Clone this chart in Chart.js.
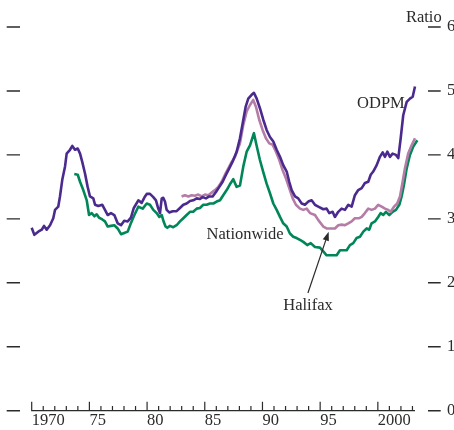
<!DOCTYPE html>
<html>
<head>
<meta charset="utf-8">
<script src="https://cdn.jsdelivr.net/npm/chart.js@4"></script>
<style>
  html, body { margin: 0; padding: 0; background: #fff; }
  #wrap { width: 454px; height: 430px; }
</style>
</head>
<body>
<div id="wrap"><canvas id="c" width="454" height="430"></canvas></div>
<script>
// ---- Data ----
const xTickValues = [1970, 1975, 1980, 1985, 1990, 1995, 2000];
const xTickLabels = ['1970', '75', '80', '85', '90', '95', '2000'];
const yTickValues = [0, 1, 2, 3, 4, 5, 6];
const yTickLabels = ['0', '1', '2', '3', '4', '5', '6'];

const odpmYears = [1970.0,1970.23,1970.57,1970.87,1971.07,1971.3,1971.59,1971.87,1972.02,1972.3,1972.45,1972.65,1972.89,1973.03,1973.32,1973.52,1973.75,1973.99,1974.19,1974.38,1974.62,1974.85,1975.05,1975.34,1975.49,1975.77,1976.12,1976.35,1976.59,1976.87,1977.16,1977.45,1977.74,1978.02,1978.32,1978.6,1978.85,1979.24,1979.53,1979.82,1979.97,1980.25,1980.54,1980.77,1980.97,1981.12,1981.27,1981.4,1981.55,1981.7,1981.92,1982.22,1982.56,1982.85,1983.14,1983.43,1983.72,1984.0,1984.3,1984.58,1984.82,1985.1,1985.39,1985.68,1985.97,1986.26,1986.55,1986.84,1987.12,1987.4,1987.76,1988.05,1988.34,1988.54,1988.77,1989.06,1989.26,1989.5,1989.78,1990.07,1990.36,1990.65,1990.94,1991.23,1991.52,1991.8,1992.1,1992.32,1992.53,1992.82,1993.1,1993.4,1993.68,1993.97,1994.26,1994.55,1994.84,1995.27,1995.56,1995.79,1996.08,1996.28,1996.57,1996.86,1997.15,1997.44,1997.73,1998.01,1998.3,1998.6,1998.88,1999.17,1999.38,1999.6,1999.9,2000.18,2000.42,2000.62,2000.82,2001.05,2001.28,2001.57,2001.77,2001.98,2002.2,2002.5,2002.78,2003.02,2003.22];
const odpmValues = [2.86,2.75,2.80,2.83,2.89,2.83,2.90,3.01,3.14,3.19,3.35,3.61,3.82,4.02,4.08,4.14,4.08,4.10,4.02,3.89,3.71,3.50,3.35,3.32,3.22,3.20,3.22,3.14,3.06,3.09,3.06,2.93,2.90,2.97,2.96,3.02,3.17,3.29,3.25,3.35,3.39,3.39,3.34,3.29,3.16,3.09,3.32,3.33,3.27,3.14,3.10,3.12,3.12,3.17,3.22,3.24,3.28,3.29,3.32,3.31,3.34,3.32,3.35,3.35,3.42,3.50,3.58,3.69,3.79,3.89,4.05,4.26,4.55,4.75,4.88,4.94,4.97,4.88,4.73,4.55,4.39,4.28,4.21,4.08,3.97,3.84,3.74,3.58,3.45,3.35,3.32,3.24,3.22,3.27,3.29,3.22,3.19,3.15,3.16,3.09,3.11,3.03,3.11,3.16,3.14,3.22,3.19,3.37,3.45,3.48,3.56,3.58,3.69,3.74,3.84,3.97,4.04,3.97,4.05,3.97,4.02,4.00,3.95,4.26,4.62,4.83,4.88,4.91,5.07];

const halifaxYears = [1982.99,1983.28,1983.57,1983.86,1984.15,1984.44,1984.73,1985.02,1985.31,1985.6,1985.88,1986.17,1986.46,1986.75,1987.04,1987.33,1987.62,1988.05,1988.34,1988.63,1988.92,1989.2,1989.44,1989.72,1990.01,1990.3,1990.59,1990.88,1991.17,1991.46,1991.75,1992.04,1992.32,1992.62,1992.9,1993.25,1993.54,1993.83,1994.12,1994.55,1994.84,1995.27,1995.56,1996.28,1996.57,1996.86,1997.15,1997.44,1997.73,1998.01,1998.39,1998.6,1998.88,1999.17,1999.46,1999.75,2000.03,2000.33,2000.62,2000.9,2001.11,2001.4,2001.68,2001.92,2002.15,2002.35,2002.63,2002.93,2003.22,2003.42];
const halifaxValues = [3.35,3.37,3.35,3.37,3.36,3.38,3.35,3.38,3.37,3.41,3.45,3.50,3.58,3.69,3.79,3.89,3.97,4.18,4.47,4.68,4.78,4.86,4.75,4.55,4.39,4.26,4.18,4.16,4.05,3.92,3.76,3.63,3.48,3.32,3.22,3.16,3.14,3.16,3.09,3.06,2.98,2.88,2.85,2.85,2.90,2.91,2.90,2.93,2.96,3.01,3.01,3.03,3.09,3.16,3.14,3.16,3.22,3.19,3.16,3.14,3.11,3.19,3.24,3.35,3.58,3.79,4.02,4.15,4.26,4.30];

const nationwideYears = [1973.69,1973.99,1974.19,1974.47,1974.77,1974.97,1975.2,1975.43,1975.63,1975.83,1976.12,1976.35,1976.59,1976.87,1977.16,1977.45,1977.74,1978.02,1978.32,1978.55,1978.85,1979.24,1979.62,1979.97,1980.25,1980.54,1980.83,1981.06,1981.27,1981.45,1981.6,1981.75,1981.98,1982.27,1982.56,1982.85,1983.14,1983.43,1983.72,1984.0,1984.3,1984.58,1984.87,1985.16,1985.45,1985.74,1986.03,1986.32,1986.6,1986.9,1987.18,1987.47,1987.76,1988.05,1988.34,1988.63,1988.92,1989.26,1989.5,1989.78,1990.07,1990.36,1990.65,1990.94,1991.23,1991.52,1991.8,1992.1,1992.38,1992.67,1992.96,1993.25,1993.54,1993.88,1994.18,1994.55,1994.98,1995.27,1995.56,1996.43,1996.72,1997.3,1997.58,1997.87,1998.16,1998.45,1998.74,1999.03,1999.25,1999.46,1999.75,2000.03,2000.24,2000.47,2000.7,2000.99,2001.28,2001.57,2001.86,2002.06,2002.26,2002.5,2002.78,2003.07,2003.42];
const nationwideValues = [3.70,3.69,3.58,3.45,3.29,3.06,3.09,3.04,3.07,3.02,2.99,2.96,2.88,2.89,2.90,2.85,2.76,2.78,2.80,2.91,3.04,3.19,3.16,3.24,3.22,3.14,3.09,3.03,3.06,2.95,2.88,2.86,2.89,2.87,2.90,2.96,3.01,3.06,3.11,3.11,3.16,3.17,3.22,3.22,3.24,3.24,3.27,3.29,3.37,3.45,3.54,3.62,3.50,3.52,3.82,4.05,4.15,4.34,4.14,3.92,3.73,3.55,3.40,3.24,3.14,3.03,2.93,2.88,2.77,2.72,2.70,2.67,2.64,2.59,2.62,2.56,2.55,2.49,2.43,2.43,2.51,2.51,2.59,2.62,2.70,2.72,2.80,2.85,2.83,2.93,2.96,3.03,3.09,3.06,3.11,3.06,3.11,3.14,3.22,3.35,3.53,3.79,4.00,4.13,4.23];

// ---- Styling ----
const FONT = 'Liberation Serif';
const TEXT = '#2b2b2b';
const toXY = (xs, ys) => xs.map((x, i) => ({ x, y: ys[i] }));

const decor = {
  id: 'decor',
  afterDraw(chart) {
    const { ctx, chartArea: ca } = chart;
    const x = chart.scales.x, y = chart.scales.y;
    ctx.save();
    ctx.strokeStyle = TEXT;
    ctx.lineWidth = 1.4;
    // left and right tick dashes
    yTickValues.forEach(v => {
      const py = y.getPixelForValue(v);
      ctx.beginPath();
      ctx.moveTo(ca.left - 25, py); ctx.lineTo(ca.left - 11.7, py);
      ctx.moveTo(ca.right + 13, py); ctx.lineTo(ca.right + 25.7, py);
      ctx.stroke();
    });
    // x baseline with yearly ticks pointing up
    const by = y.getPixelForValue(0);
    ctx.lineWidth = 1.2;
    ctx.beginPath();
    ctx.moveTo(x.getPixelForValue(1970) - 0.6, by);
    ctx.lineTo(x.getPixelForValue(2003.22), by);
    for (let yr = 1970; yr <= 2003; yr++) {
      const px = x.getPixelForValue(yr);
      const len = (yr % 5 === 0) ? 9 : 4.6;
      ctx.moveTo(px, by); ctx.lineTo(px, by - len);
    }
    ctx.stroke();

    // text annotations
    ctx.fillStyle = TEXT;
    ctx.font = '16.5px "' + FONT + '"';
    ctx.textBaseline = 'alphabetic';
    ctx.textAlign = 'right';
    ctx.fillText('Ratio', 441.7, 21.5);
    ctx.textAlign = 'left';
    ctx.fillText('ODPM', x.getPixelForValue(1998.2), y.getPixelForValue(4.74));
    ctx.fillText('Nationwide', x.getPixelForValue(1985.16), y.getPixelForValue(2.69));
    ctx.fillText('Halifax', x.getPixelForValue(1991.8), y.getPixelForValue(1.58));

    // arrow to Halifax line
    const tx = x.getPixelForValue(1993.94), ty = y.getPixelForValue(1.84);
    const hx = x.getPixelForValue(1995.74), hy = y.getPixelForValue(2.8);
    const ang = Math.atan2(hy - ty, hx - tx);
    const hl = 9, hw = 3.2;
    const bx = hx - hl * Math.cos(ang), byy = hy - hl * Math.sin(ang);
    ctx.lineWidth = 1.2;
    ctx.beginPath(); ctx.moveTo(tx, ty); ctx.lineTo(bx, byy); ctx.stroke();
    ctx.beginPath();
    ctx.moveTo(hx, hy);
    ctx.lineTo(bx + hw * Math.sin(ang), byy - hw * Math.cos(ang));
    ctx.lineTo(bx - hw * Math.sin(ang), byy + hw * Math.cos(ang));
    ctx.closePath(); ctx.fill();
    ctx.restore();
  }
};

const lineDs = (label, data, color) => ({
  label, data, borderColor: color, backgroundColor: color,
  borderWidth: 2.6, pointRadius: 0, tension: 0, fill: false,
  borderJoinStyle: 'round', clip: 6
});

new Chart(document.getElementById('c'), {
  type: 'line',
  data: {
    datasets: [
      lineDs('ODPM', toXY(odpmYears, odpmValues), '#4b2a8e'),
      lineDs('Halifax', toXY(halifaxYears, halifaxValues), '#b47ca6'),
      lineDs('Nationwide', toXY(nationwideYears, nationwideValues), '#008657')
    ]
  },
  options: {
    responsive: false,
    animation: false,
    devicePixelRatio: 1,
    layout: { padding: { left: 31.7, top: 27, right: 0, bottom: 0 } },
    plugins: { legend: { display: false }, tooltip: { enabled: false } },
    scales: {
      x: {
        type: 'linear', position: 'bottom', min: 1970, max: 2003.22,
        grid: { display: false, drawTicks: false },
        border: { display: false },
        afterBuildTicks: s => { s.ticks = xTickValues.map(v => ({ value: v })); },
        afterFit: s => { s.height = 19.3; s.paddingLeft = 0; s.paddingRight = 0; s.paddingTop = 0; s.paddingBottom = 0; },
        ticks: {
          align: 'start', padding: 0, autoSkip: false, maxRotation: 0,
          color: TEXT, font: { family: FONT, size: 16.5 },
          callback: (v) => xTickLabels[xTickValues.indexOf(v)]
        }
      },
      y: {
        type: 'linear', position: 'right', min: 0, max: 6,
        grid: { display: false, drawTicks: false },
        border: { display: false },
        afterBuildTicks: s => { s.ticks = yTickValues.map(v => ({ value: v })); },
        afterFit: s => { s.width = 39; s.paddingTop = 0; s.paddingBottom = 0; s.paddingLeft = 0; s.paddingRight = 0; },
        ticks: {
          padding: 32, color: TEXT, font: { family: FONT, size: 16.5 },
          callback: (v) => yTickLabels[yTickValues.indexOf(v)]
        }
      }
    }
  },
  plugins: [decor]
});
</script>
</body>
</html>
